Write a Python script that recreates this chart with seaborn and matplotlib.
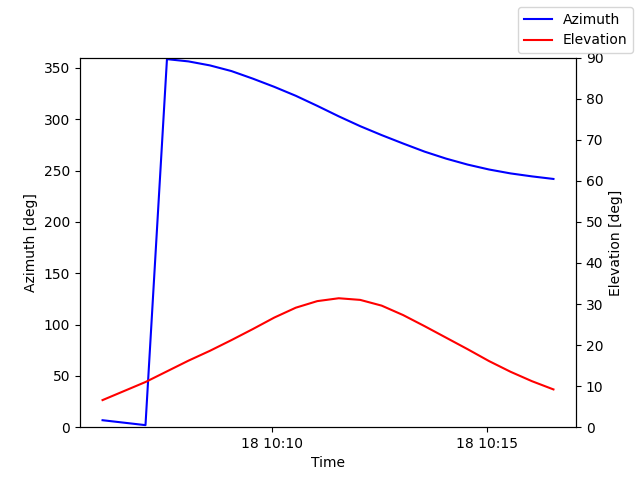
"""
Satellite pass: azimuth and elevation against time, on twin y axes.
"""

import pandas as pd
import seaborn as sns
import matplotlib
matplotlib.use('Agg')
import matplotlib.pyplot as plt

# Samples every 30 s
START_TIME = '2024-03-18 10:06:03'
N_SAMPLES = 22

AZIMUTH = [6.8, 4.4, 2.0, 358.5, 356.3, 352.4, 346.9, 339.5, 331.5, 322.8, 313.0,
           302.8, 293.2, 284.5, 276.3, 268.4, 261.6, 255.8, 251.0, 247.2, 244.3, 241.8]
ELEVATION = [6.6, 8.8, 11.0, 13.6, 16.2, 18.6, 21.2, 23.9, 26.7, 29.1, 30.7,
             31.4, 31.0, 29.6, 27.3, 24.6, 21.8, 19.0, 16.1, 13.5, 11.2, 9.2]

df = pd.DataFrame({
    'Time': pd.date_range(START_TIME, periods=N_SAMPLES, freq='30s'),
    'Azimuth': AZIMUTH,
    'Elevation': ELEVATION,
})

fig, ax = plt.subplots(figsize=(6.4, 4.8), dpi=100)
ax2 = ax.twinx()

sns.lineplot(data=df, x='Time', y='Azimuth', ax=ax, color='blue',
             label='Azimuth', legend=False)
sns.lineplot(data=df, x='Time', y='Elevation', ax=ax2, color='red',
             label='Elevation', legend=False)

ax.set_ylim(0, 360)
ax2.set_ylim(0, 90)
ax.set_xlabel('Time')
ax.set_ylabel('Azimuth [deg]')
ax2.set_ylabel('Elevation [deg]')

fig.legend(loc='upper right')

plt.savefig('out.png', dpi=100)
